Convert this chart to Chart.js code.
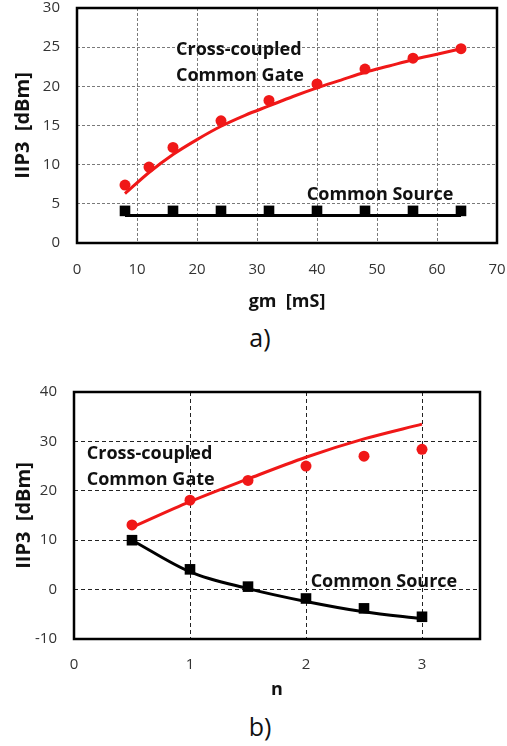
<!DOCTYPE html>
<html>
<head>
<meta charset="utf-8">
<script src="https://cdn.jsdelivr.net/npm/chart.js@4.4.1/dist/chart.umd.min.js"></script>
<style>
    body { margin: 0; background: #fff; width: 507px; height: 746px; position: relative; overflow: hidden; font-family: "Open Sans", sans-serif; }
    canvas { position: absolute; left: 0; }
    #chartA { top: 0; }
    #chartB { top: 380px; }
    .cap { position: absolute; left: 220px; width: 80px; text-align: center; font-size: 25px; color: #111; line-height: 30px; }
</style>
</head>
<body>
<canvas id="chartA" width="507" height="313"></canvas>
<canvas id="chartB" width="507" height="322"></canvas>
<div class="cap" style="top:322px">a)</div>
<div class="cap" style="top:711px">b)</div>

<script>
// ---------------- DATA (a) : IIP3 vs gm ----------------
const gmMeas = [8, 12, 16, 24, 32, 40, 48, 56, 64];
const cgMeas = [7.4, 9.7, 12.2, 15.6, 18.2, 20.3, 22.2, 23.6, 24.8];
const gmFit = [8, 12, 16, 20, 24, 28, 32, 36, 40, 44, 48, 52, 56, 60, 64];
const cgFit = [6.3, 9.0, 11.3, 13.2, 14.9, 16.3, 17.5, 18.7, 19.8, 20.8, 21.8, 22.6, 23.4, 24.1, 24.8];
const gmCs = [8, 16, 24, 32, 40, 48, 56, 64];
const csMeas = [4.1, 4.1, 4.1, 4.1, 4.1, 4.1, 4.1, 4.1];
const gmCsFit = [8, 64];
const csFit = [3.5, 3.5];

// ---------------- DATA (b) : IIP3 vs n ----------------
const nVals = [0.5, 1, 1.5, 2, 2.5, 3];
const cgMeasN = [13.1, 18.1, 22.1, 25.0, 27.0, 28.4];
const cgFitN = [12.6, 17.8, 22.4, 26.8, 30.5, 33.5];
const csMeasN = [10.0, 4.1, 0.6, -1.8, -3.8, -5.5];
const csFitN = [10.0, 3.6, 0.2, -2.4, -4.5, -5.9];

// annotation labels (data coordinates, left edge)
const labelsA = [
    { text: "Cross-coupled", x: 16.5, y: 24.7 },
    { text: "Common Gate", x: 16.5, y: 21.3 },
    { text: "Common Source", x: 38.3, y: 6.2 }
];
const labelsB = [
    { text: "Cross-coupled", x: 0.11, y: 27.4 },
    { text: "Common Gate", x: 0.11, y: 22.2 },
    { text: "Common Source", x: 2.04, y: 1.5 }
];

const RED = "rgb(240,24,24)";
const tickFont = { family: "Open Sans", size: 15 };
const titleFont = { family: "Open Sans", size: 18, weight: "bold" };

function pts(xs, ys) {
    return xs.map((x, i) => ({ x: x, y: ys[i] }));
}

// ---------------- PLUGINS ----------------
const frame = {
    id: "frame",
    afterDatasetsDraw(chart) {
        const a = chart.chartArea;
        const ctx = chart.ctx;
        ctx.save();
        ctx.strokeStyle = "#000";
        ctx.lineWidth = 2.5;
        ctx.strokeRect(a.left, a.top, a.right - a.left, a.bottom - a.top);
        ctx.restore();
    }
};

const notes = {
    id: "notes",
    afterDraw(chart, args, opts) {
        const ctx = chart.ctx;
        ctx.save();
        ctx.font = "bold 18px 'Open Sans'";
        ctx.fillStyle = "#111";
        ctx.textBaseline = "middle";
        ctx.textAlign = "left";
        opts.items.forEach(it => {
            ctx.fillText(it.text, chart.scales.x.getPixelForValue(it.x), chart.scales.y.getPixelForValue(it.y));
        });
        ctx.restore();
    }
};

// ---------------- CREATE CHART ----------------
function makeChart(id, cfg) {
    return new Chart(document.getElementById(id), {
        type: "scatter",
        data: {
            datasets: [
                { data: cfg.cgMeas, pointStyle: "circle", pointRadius: 5.5, backgroundColor: RED, borderColor: RED, borderWidth: 0, showLine: false },
                { data: cfg.csMeas, pointStyle: "rect", pointRadius: 7.5, backgroundColor: "#000", borderColor: "#000", borderWidth: 0, showLine: false },
                { data: cfg.cgFit, showLine: true, pointRadius: 0, borderColor: RED, borderWidth: 3, cubicInterpolationMode: "monotone" },
                { data: cfg.csFit, showLine: true, pointRadius: 0, borderColor: "#000", borderWidth: 3, cubicInterpolationMode: "monotone" }
            ]
        },
        options: {
            responsive: false,
            animation: false,
            layout: { padding: cfg.padding },
            plugins: {
                legend: { display: false },
                tooltip: { enabled: false },
                notes: { items: cfg.notes }
            },
            scales: {
                x: {
                    min: cfg.xMin, max: cfg.xMax,
                    afterBuildTicks: s => { s.ticks = s.ticks.filter(t => Number.isInteger(t.value)); },
                    afterFit: s => { s.height = cfg.xHeight; s.paddingLeft = 0; s.paddingRight = 0; },
                    ticks: { stepSize: cfg.xStep, padding: cfg.xPad, color: "#333", font: tickFont, maxRotation: 0 },
                    grid: { color: cfg.gridColor, lineWidth: 1, drawTicks: false },
                    border: { display: false, dash: cfg.dash },
                    title: { display: true, text: cfg.xTitle, color: "#111", font: titleFont, padding: { top: 0, bottom: cfg.xTitlePad } }
                },
                y: {
                    min: cfg.yMin, max: cfg.yMax,
                    afterFit: s => { s.width = cfg.yWidth; s.paddingTop = 0; s.paddingBottom = 0; },
                    ticks: { stepSize: cfg.yStep, padding: 17, color: "#333", font: tickFont },
                    grid: { color: cfg.gridColor, lineWidth: 1, drawTicks: false },
                    border: { display: false, dash: cfg.dash },
                    title: { display: true, text: "IIP3  [dBm]", color: "#111", font: { family: "Open Sans", size: 20, weight: "bold" }, padding: { top: cfg.yTitlePad, bottom: 0 } }
                }
            }
        },
        plugins: [frame, notes]
    });
}

// ---------------- INIT ----------------
makeChart("chartA", {
    cgMeas: pts(gmMeas, cgMeas),
    csMeas: pts(gmCs, csMeas),
    cgFit: pts(gmFit, cgFit),
    csFit: pts(gmCsFit, csFit),
    notes: labelsA,
    padding: { top: 8, right: 10, bottom: 0, left: 0 },
    xMin: 0, xMax: 70, xStep: 10,
    yMin: 0, yMax: 30, yStep: 5,
    xHeight: 70, yWidth: 77,
    xPad: 18, xTitle: "gm  [mS]", xTitlePad: 0, yTitlePad: 11,
    gridColor: "#7a7a7a", dash: [3, 2]
});

makeChart("chartB", {
    cgMeas: pts(nVals, cgMeasN),
    csMeas: pts(nVals, csMeasN),
    cgFit: pts(nVals, cgFitN),
    csFit: pts(nVals, csFitN),
    notes: labelsB,
    padding: { top: 12, right: 27, bottom: 0, left: 0 },
    xMin: 0, xMax: 3.5, xStep: 1,
    yMin: -10, yMax: 40, yStep: 10,
    xHeight: 63, yWidth: 74,
    xPad: 17, xTitle: "n", xTitlePad: 1, yTitlePad: 12,
    gridColor: "#222", dash: [4, 3]
});
</script>
</body>
</html>
